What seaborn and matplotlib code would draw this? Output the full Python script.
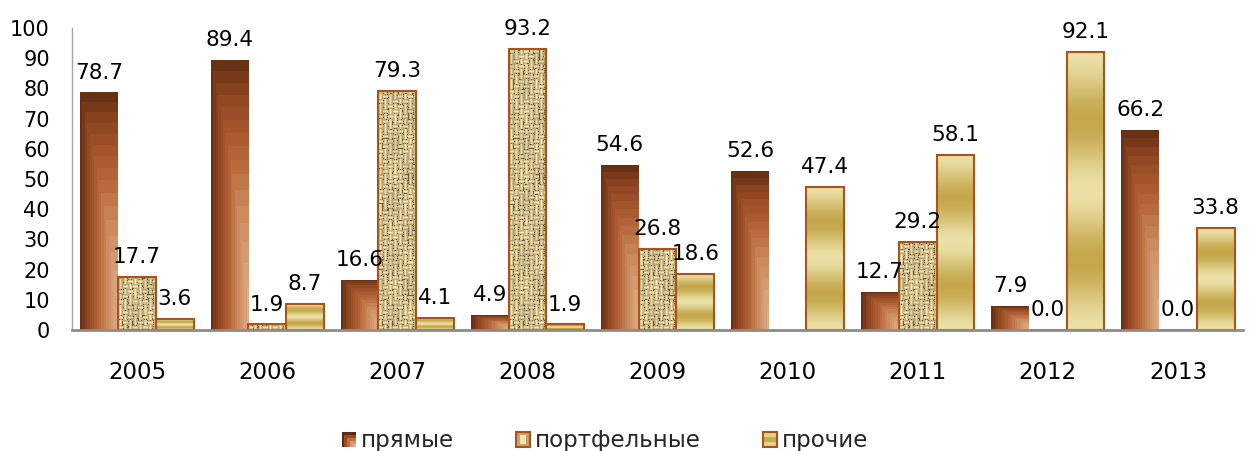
import numpy as np
import pandas as pd
import matplotlib
matplotlib.use("Agg")
import matplotlib.pyplot as plt
import seaborn as sns
from matplotlib.colors import LinearSegmentedColormap, to_rgb
from matplotlib.legend_handler import HandlerBase
from matplotlib.patches import Rectangle

# ---- data -------------------------------------------------------------
years = ["2005", "2006", "2007", "2008", "2009", "2010", "2011", "2012", "2013"]
direct = [78.7, 89.4, 16.6, 4.9, 54.6, 52.6, 12.7, 7.9, 66.2]
portfolio = [17.7, 1.9, 79.3, 93.2, 26.8, np.nan, 29.2, 0.0, 0.0]
other = [3.6, 8.7, 4.1, 1.9, 18.6, 47.4, 58.1, 92.1, 33.8]
series_names = ["прямые", "портфельные", "прочие"]
y_ticks = [0, 10, 20, 30, 40, 50, 60, 70, 80, 90, 100]

df = pd.DataFrame({
    "year": years * 3,
    "type": np.repeat(series_names, len(years)),
    "value": direct + portfolio + other,
}).dropna()

# ---- style ------------------------------------------------------------
sns.set_style("white")
plt.rcParams["font.family"] = ["DejaVu Sans"]
FS_Y, FS_X, FS_LABEL, FS_LEG = 15, 16.5, 15.5, 16.5
EDGE = "#a8541c"

W_PX, H_PX = 1250, 451
fig = plt.figure(figsize=(W_PX / 100, H_PX / 100), dpi=100)
ax_pos = [72 / W_PX, 1 - 330 / H_PX, 1171 / W_PX, 302 / H_PX]
ax = fig.add_axes(ax_pos)

sns.barplot(data=df, x="year", y="value", hue="type", hue_order=series_names,
            order=years, width=0.87, gap=0, errorbar=None, saturation=1,
            legend=False, ax=ax)

px_per_unit_y = ax_pos[3] * H_PX / 100.0
px_per_unit_x = ax_pos[2] * W_PX / len(years)

# ---- fills -------------------------------------------------------------
brown_cmap = LinearSegmentedColormap.from_list("brown", [
    (0.00, "#ddab86"), (0.25, "#cc8c5e"), (0.45, "#b86a3c"),
    (0.62, "#a5552c"), (0.80, "#8c4420"), (0.92, "#6e3318"), (1.00, "#5a2810"),
])


def brown_fill(h_px, w_px):
    ny, nx = max(int(round(h_px)), 2), max(int(round(w_px)), 2)
    yy = (np.arange(ny) + 0.5) / ny
    xx = (np.arange(nx) + 0.5) / nx
    t = np.maximum((1 - xx)[None, :], (yy ** 1.5)[:, None])
    t = np.floor(t * 16) / 16
    return brown_cmap(t)


def weave_fill(h_px, w_px):
    ny, nx = max(int(round(h_px)), 2), max(int(round(w_px)), 2)
    i = np.arange(ny)[:, None]
    j = np.arange(nx)[None, :]
    cell = 5
    ci, cj = i // cell, j // cell
    ri, rj = i % cell, j % cell
    horiz = ((ci * 3 + cj * 7) % 5) < 2
    thread = np.where(horiz, (ri >= 1) & (ri <= 3), (rj >= 1) & (rj <= 3))
    center = np.where(horiz, ri == 2, rj == 2)
    grain = ((i * 73 + j * 151 + ((i * j) % 13) * 29) % 97) / 97.0
    dark = np.array(to_rgb("#7a6438"))
    base = np.array(to_rgb("#c6ae78"))
    mid = np.array(to_rgb("#dccb95"))
    light = np.array(to_rgb("#f6eec8"))
    img = np.empty((ny, nx, 3))
    gap_col = np.where((grain < 0.22)[..., None], dark, base)
    img[:] = gap_col
    img[thread] = mid
    img[center & thread] = light
    shade = 0.95 + 0.05 * np.sin(i / 9.0) * np.cos(j / 5.0)
    return np.clip(img * shade[..., None], 0, 1)


def gold_fill(h_px):
    ny = max(int(round(h_px)), 4)
    v = (np.arange(ny) + 0.5) / ny
    s = 0.5 - 0.5 * np.cos(4 * np.pi * v)
    light = np.array(to_rgb("#ebe0a6"))
    dark = np.array(to_rgb("#c5a84c"))
    col = light[None, :] * (1 - s[:, None]) + dark[None, :] * s[:, None]
    return col[:, None, :]


for k, container in enumerate(ax.containers):
    for bar in container:
        x0, w, h = bar.get_x(), bar.get_width(), bar.get_height()
        bar.set_facecolor("none")
        bar.set_zorder(2)
        if k == 0:
            bar.set_edgecolor("none")
        else:
            bar.set_edgecolor(EDGE)
            bar.set_linewidth(1.5)
        if h <= 0:
            continue
        h_px, w_px = h * px_per_unit_y, w * px_per_unit_x
        if k == 0:
            img, interp = brown_fill(h_px, w_px), "nearest"
        elif k == 1:
            img, interp = weave_fill(h_px, w_px), "nearest"
        else:
            img, interp = gold_fill(h_px), "bilinear"
        im = ax.imshow(img, extent=[x0, x0 + w, 0, h], origin="lower",
                       aspect="auto", interpolation=interp, zorder=1.5)
        im.set_clip_path(bar)
    ax.bar_label(container, fmt="%.1f", padding=7, fontsize=FS_LABEL, color="black")

# ---- axes ---------------------------------------------------------------
ax.set_xlim(-0.5, len(years) - 0.5)
ax.set_ylim(0, 100)
ax.set_aspect("auto")
ax.set_yticks(y_ticks)
ax.set_xlabel("")
ax.set_ylabel("")
ax.tick_params(axis="both", length=0, colors="black")
ax.tick_params(axis="x", pad=22, labelsize=FS_X)
ax.tick_params(axis="y", pad=16, labelsize=FS_Y)
for side in ("top", "right"):
    ax.spines[side].set_visible(False)
ax.spines["left"].set_color("#a6a6a6")
ax.spines["left"].set_linewidth(1)
ax.spines["bottom"].set_color("#8c8c8c")
ax.spines["bottom"].set_linewidth(2)
ax.spines["bottom"].set_zorder(3)


# ---- legend ---------------------------------------------------------------
class SwatchHandler(HandlerBase):
    def __init__(self, kind):
        super().__init__()
        self.kind = kind

    def create_artists(self, legend, orig_handle, xdescent, ydescent,
                       width, height, fontsize, trans):
        s = min(width, height)
        x0 = -xdescent + (width - s) / 2
        y0 = -ydescent + (height - s) / 2
        arts = []
        if self.kind == "direct":
            cols = ["#5e2c14", "#9a4a24", "#b9713f", "#d39a6e", "#e2b895"]
            n = len(cols)
            for i, c in enumerate(cols):
                f = 1 - i / n
                arts.append(Rectangle((x0 + s * (1 - f), y0), s * f, s * f,
                                      facecolor=c, edgecolor="none", transform=trans))
        elif self.kind == "portfolio":
            arts.append(Rectangle((x0, y0), s, s, facecolor="#bfa46c",
                                  edgecolor=EDGE, lw=1.5, transform=trans))
            arts.append(Rectangle((x0 + s * 0.3, y0 + s * 0.2), s * 0.4, s * 0.6,
                                  facecolor="#efe3b8", edgecolor="none", transform=trans))
        else:
            arts.append(Rectangle((x0, y0), s, s, facecolor="#e3d28a",
                                  edgecolor=EDGE, lw=1.5, transform=trans))
            arts.append(Rectangle((x0 + 0.75, y0 + s * 0.35), s - 1.5, s * 0.3,
                                  facecolor="#c9ac52", edgecolor="none", transform=trans))
        return arts


handles = [Rectangle((0, 0), 1, 1) for _ in series_names]
kinds = ["direct", "portfolio", "other"]
fig.legend(handles, series_names,
           handler_map={h: SwatchHandler(kd) for h, kd in zip(handles, kinds)},
           loc="center", bbox_to_anchor=(605 / W_PX, 1 - 441 / H_PX), ncol=3,
           frameon=False, fontsize=FS_LEG, handlelength=0.62, handleheight=0.62,
           handletextpad=0.22, columnspacing=2.7, borderpad=0, borderaxespad=0)

fig.savefig("out.png", dpi=100)
